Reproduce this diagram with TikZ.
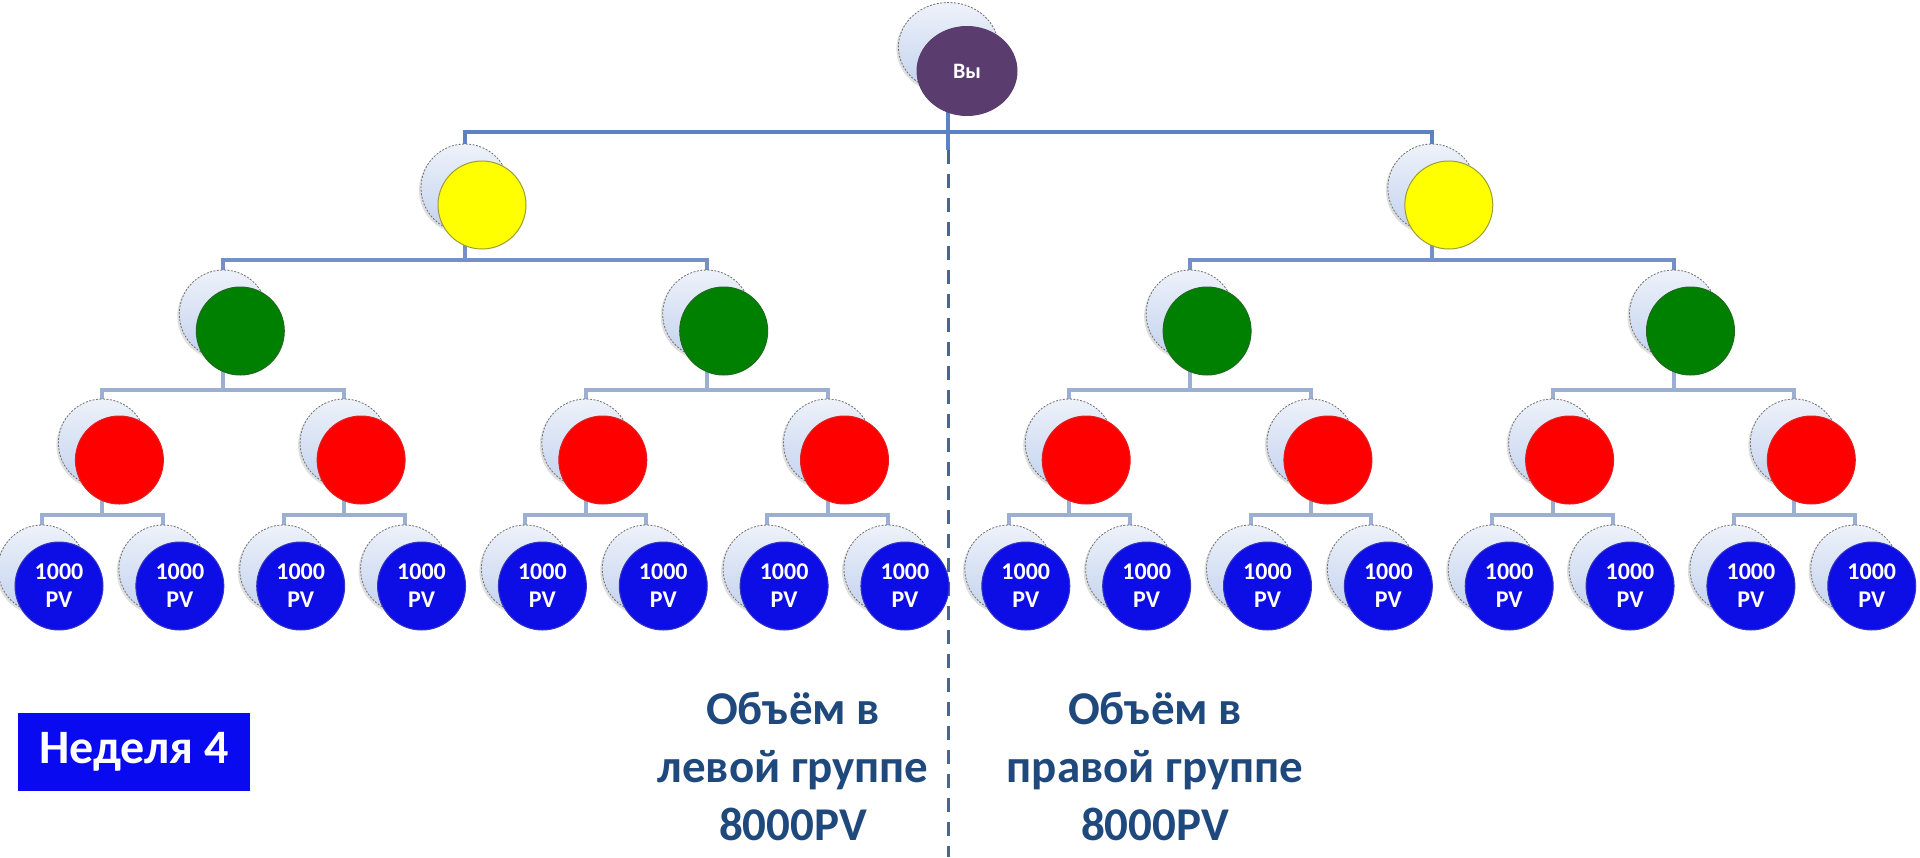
\documentclass[tikz,border=0pt]{standalone}
\usepackage{fontspec}
\setmainfont{Carlito}
\usetikzlibrary{shadows,shapes.geometric}
\pgfdeclarelayer{back}
\pgfsetlayers{back,main}
\definecolor{backedge}{HTML}{707070}
\definecolor{backtop}{HTML}{EEF2FA}
\definecolor{backbot}{HTML}{C2D2EE}
\definecolor{conntop}{HTML}{5B83C4}
\definecolor{connmid}{HTML}{7391C7}
\definecolor{connlow}{HTML}{9AAFD2}
\definecolor{midline}{HTML}{46678F}
\definecolor{topfill}{HTML}{5B3C6E}
\definecolor{yelfill}{HTML}{FFFF00}
\definecolor{yeledge}{HTML}{9C9C3A}
\definecolor{grnfill}{HTML}{008000}
\definecolor{grnedge}{HTML}{1E6A1E}
\definecolor{redfill}{HTML}{FF0000}
\definecolor{rededge}{HTML}{E02020}
\definecolor{blufill}{HTML}{0D0DE6}
\definecolor{bluedge}{HTML}{3535C0}
\definecolor{txtblue}{HTML}{1F497D}
\definecolor{boxblue}{HTML}{0A0AF0}
\begin{document}
\begin{tikzpicture}[x=1pt,y=-1pt,
  backc/.style={circle, minimum size=88pt, inner sep=0pt, draw=backedge, line width=0.8pt,
    dash pattern=on 2pt off 1.5pt, top color=backtop, bottom color=backbot,
    drop shadow={shadow xshift=-2pt, shadow yshift=-2pt, opacity=0.25}},
  frontc/.style={circle, minimum size=88pt, inner sep=0pt, line width=1pt},
  topnode/.style={frontc, ellipse, minimum width=100pt, minimum height=89pt, fill=topfill, draw=topfill,
    text=white, font=\bfseries\fontsize{22}{26}\selectfont},
  topback/.style={backc, ellipse, minimum width=100pt, minimum height=89pt},
  yel/.style={frontc, fill=yelfill, draw=yeledge},
  grn/.style={frontc, fill=grnfill, draw=grnedge},
  rednode/.style={frontc, fill=redfill, draw=rededge},
  leaf/.style={frontc, fill=blufill, draw=bluedge, text=white, align=center,
    font=\bfseries\fontsize{24}{28}\selectfont},
  conn/.style={line width=4pt},
  grouptext/.style={align=center, text=txtblue, font=\bfseries\fontsize{47}{58}\selectfont},
  weekbox/.style={fill=boxblue, text=white, minimum width=232pt, minimum height=78pt, inner sep=0pt,
    font=\bfseries\fontsize{48}{56}\selectfont}
]
\useasboundingbox (0,0) rectangle (1920,857);

% level 0
\node[topback] (b0) at (948.4,47) {};
\node[topnode] (f0) at (967,71) {Вы};

% level 1
\foreach \k in {0,1} {
  \pgfmathsetmacro\bx{465+966.8*\k}
  \node[backc] (b1-\k) at (\bx,188) {};
  \node[yel] (f1-\k) at (\bx+17,205) {};
}
% level 2
\foreach \k in {0,...,3} {
  \pgfmathsetmacro\bx{223.3+483.4*\k}
  \node[backc] (b2-\k) at (\bx,314) {};
  \node[grn] (f2-\k) at (\bx+17,331) {};
}
% level 3
\foreach \k in {0,...,7} {
  \pgfmathsetmacro\bx{102.4+241.7*\k}
  \node[backc] (b3-\k) at (\bx,443) {};
  \node[rednode] (f3-\k) at (\bx+17,460) {};
}
% level 4
\foreach \k in {0,...,15} {
  \pgfmathsetmacro\bx{42+120.85*\k}
  \node[backc] (b4-\k) at (\bx,569) {};
  \node[leaf] (f4-\k) at (\bx+17,586) {1000\\PV};
}

% connectors
\begin{pgfonlayer}{back}
  \coordinate (split) at (b0.center |- 0,150);
  \coordinate (bottom) at (b0.center |- 0,857);
  \draw[midline, line width=3pt, dash pattern=on 14pt off 10pt] (split) -- (bottom);
  \draw[conn, conntop] (b0.center) -- (split);
  \foreach \k in {0,1} {
    \draw[conn, conntop] (b0.center |- 0,132) -| (b1-\k.center);
  }
  \foreach \p in {0,1} {
    \pgfmathtruncatemacro\ca{2*\p}
    \pgfmathtruncatemacro\cb{2*\p+1}
    \draw[conn, connmid] (b1-\p.center) -- (b1-\p.center |- 0,260);
    \draw[conn, connmid] (b2-\ca.center) |- (b1-\p.center |- 0,260) -| (b2-\cb.center);
  }
  \foreach \p in {0,...,3} {
    \pgfmathtruncatemacro\ca{2*\p}
    \pgfmathtruncatemacro\cb{2*\p+1}
    \draw[conn, connlow] (b2-\p.center) -- (b2-\p.center |- 0,390);
    \draw[conn, connlow] (b3-\ca.center) |- (b2-\p.center |- 0,390) -| (b3-\cb.center);
  }
  \foreach \p in {0,...,7} {
    \pgfmathtruncatemacro\ca{2*\p}
    \pgfmathtruncatemacro\cb{2*\p+1}
    \draw[conn, connlow] (b3-\p.center) -- (b3-\p.center |- 0,515);
    \draw[conn, connlow] (b4-\ca.center) |- (b3-\p.center |- 0,515) -| (b4-\cb.center);
  }
\end{pgfonlayer}

% texts
\node[grouptext] (lefttext) at (793,766) {Объём в\\левой группе\\8000PV};
\node[grouptext] (righttext) at (1155,766) {Объём в\\правой группе\\8000PV};
\node[weekbox] (week) at (134,752) {Неделя 4};
\end{tikzpicture}
\end{document}
